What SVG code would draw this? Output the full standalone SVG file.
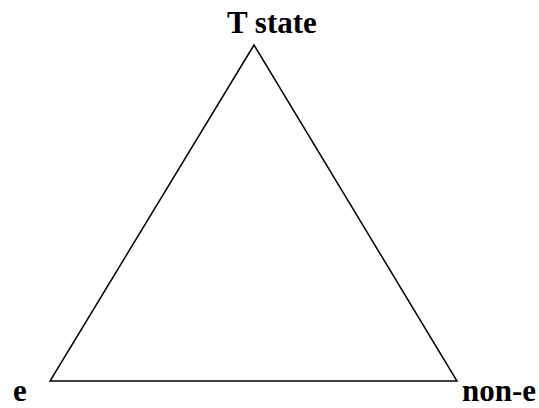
<svg xmlns="http://www.w3.org/2000/svg" width="539" height="408" viewBox="0 0 539 408">
<style>
text{font-family:"Liberation Serif","Times New Roman",serif;font-weight:bold;font-size:31px;fill:#000}
.edge{fill:none;stroke:#000;stroke-width:1.5}
</style>
<rect width="539" height="408" fill="#fff"/>
<g id="connectors">
<polygon class="edge" points="254,45 50,381 457,381"/>
</g>
<g id="node-t"><text x="227" y="33">T state</text></g>
<g id="node-e"><text x="13" y="401">e</text></g>
<g id="node-non-e"><text x="462" y="401">non-e</text></g>
</svg>
